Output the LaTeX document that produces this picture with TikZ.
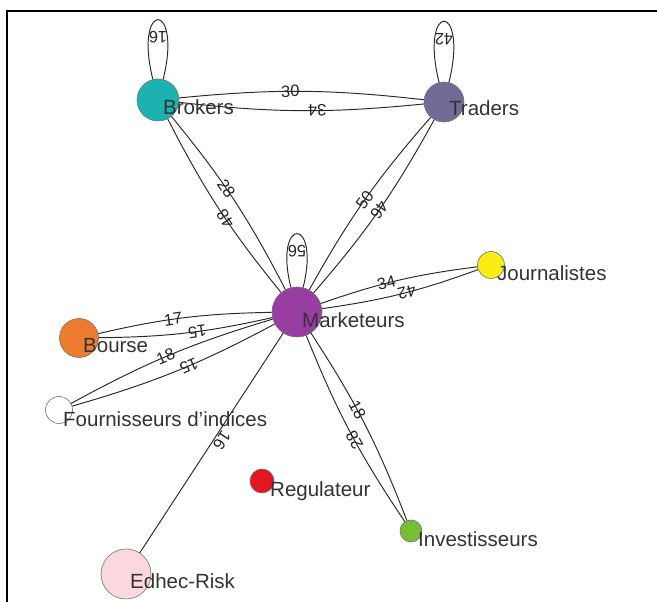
\documentclass[tikz,border=0pt]{standalone}
\usepackage{fontspec}
\setmainfont{Liberation Sans}
\definecolor{brokc}{RGB}{28,178,176}
\definecolor{tradc}{RGB}{112,108,150}
\definecolor{markc}{RGB}{152,62,162}
\definecolor{jourc}{RGB}{250,236,20}
\definecolor{boursc}{RGB}{238,124,48}
\definecolor{regc}{RGB}{228,22,34}
\definecolor{invc}{RGB}{118,190,52}
\definecolor{edhc}{RGB}{250,216,222}
\definecolor{linec}{RGB}{40,40,40}

\begin{document}
\begin{tikzpicture}[x=1pt,y=1pt,
  vtx/.style={circle,draw=black!55,line width=.6pt,inner sep=0pt},
  vlbl/.style={anchor=base west,inner sep=0pt,text=black!80,font=\fontsize{20.5}{24}\selectfont},
  edge/.style={draw=linec,line width=.95pt},
  elbl/.style={sloped,allow upside down,inner sep=1pt,text=black!85,font=\fontsize{16.5}{18}\selectfont},
  looplbl/.style={pos=.5,yshift=-18pt,rotate=180,inner sep=1pt,text=black!85,font=\fontsize{16.5}{18}\selectfont}]
\useasboundingbox (0,0) rectangle (657,602);
\fill[white] (0,0) rectangle (657,602);
\draw[line width=1.8pt] (7,0) -- (7,591) -- (657,591);

% vertices
\node[vtx,fill=brokc,minimum size=42pt] (brokers) at (158,502) {};
\node[vtx,fill=tradc,minimum size=40pt] (traders) at (444,500) {};
\node[vtx,fill=markc,minimum size=50pt] (marketeurs) at (297,290) {};
\node[vtx,fill=jourc,minimum size=27pt] (journalistes) at (491,337) {};
\node[vtx,fill=boursc,minimum size=39pt] (bourse) at (79,264) {};
\node[vtx,fill=white,minimum size=27pt] (fournisseurs) at (59,192) {};
\node[vtx,fill=regc,minimum size=24pt] (regulateur) at (262,121) {};
\node[vtx,fill=invc,minimum size=22pt] (investisseurs) at (411,71) {};
\node[vtx,fill=edhc,minimum size=50pt] (edhec) at (126,28) {};

% edges
\draw[edge] (brokers) to[bend left=6] node[elbl,pos=.45]{30} (traders);
\draw[edge] (traders) to[bend left=6] node[elbl,pos=.43]{34} (brokers);
\draw[edge] (brokers) to[bend left=6] node[elbl,pos=.43]{28} (marketeurs);
\draw[edge] (marketeurs) to[bend left=6] node[elbl,pos=.44]{48} (brokers);
\draw[edge] (marketeurs) to[bend left=6] node[elbl,pos=.5]{50} (traders);
\draw[edge] (traders) to[bend left=6] node[elbl,pos=.5]{46} (marketeurs);
\draw[edge] (marketeurs) to[bend left=6] node[elbl,pos=.42]{34} (journalistes);
\draw[edge] (journalistes) to[bend left=6] node[elbl,pos=.46]{42} (marketeurs);
\draw[edge] (bourse) to[bend left=6] node[elbl,pos=.43]{17} (marketeurs);
\draw[edge] (marketeurs) to[bend left=6] node[elbl,pos=.43]{15} (bourse);
\draw[edge] (fournisseurs) to[bend left=6] node[elbl,pos=.48]{18} (marketeurs);
\draw[edge] (marketeurs) to[bend left=6] node[elbl,pos=.43]{15} (fournisseurs);
\draw[edge] (marketeurs) to[bend left=6] node[elbl,pos=.42]{18} (investisseurs);
\draw[edge] (investisseurs) to[bend left=6] node[elbl,pos=.45]{28} (marketeurs);
\draw[edge] (marketeurs) -- node[elbl,pos=.47,above]{16} (edhec);

% self loops
\draw[edge] (brokers) to[out=104,in=76,distance=82pt] node[looplbl]{16} (brokers);
\draw[edge] (traders) to[out=104,in=76,distance=84pt] node[looplbl]{42} (traders);
\draw[edge] (marketeurs) to[out=104,in=76,distance=74pt] node[looplbl]{56} (marketeurs);

% labels
\node[vlbl] (brokers-l) at ([shift={(5,-15)}]brokers.center) {Brokers};
\node[vlbl] (traders-l) at ([shift={(5,-14)}]traders.center) {Traders};
\node[vlbl] (marketeurs-l) at ([shift={(5,-16)}]marketeurs.center) {Marketeurs};
\node[vlbl] (journalistes-l) at ([shift={(6,-16)}]journalistes.center) {Journalistes};
\node[vlbl] (bourse-l) at ([shift={(4,-15)}]bourse.center) {Bourse};
\node[vlbl] (fournisseurs-l) at ([shift={(4,-17)}]fournisseurs.center) {Fournisseurs d’indices};
\node[vlbl] (regulateur-l) at ([shift={(8,-16)}]regulateur.center) {Regulateur};
\node[vlbl] (investisseurs-l) at ([shift={(7,-16)}]investisseurs.center) {Investisseurs};
\node[vlbl] (edhec-l) at ([shift={(4,-15)}]edhec.center) {Edhec-Risk};
\end{tikzpicture}
\end{document}
